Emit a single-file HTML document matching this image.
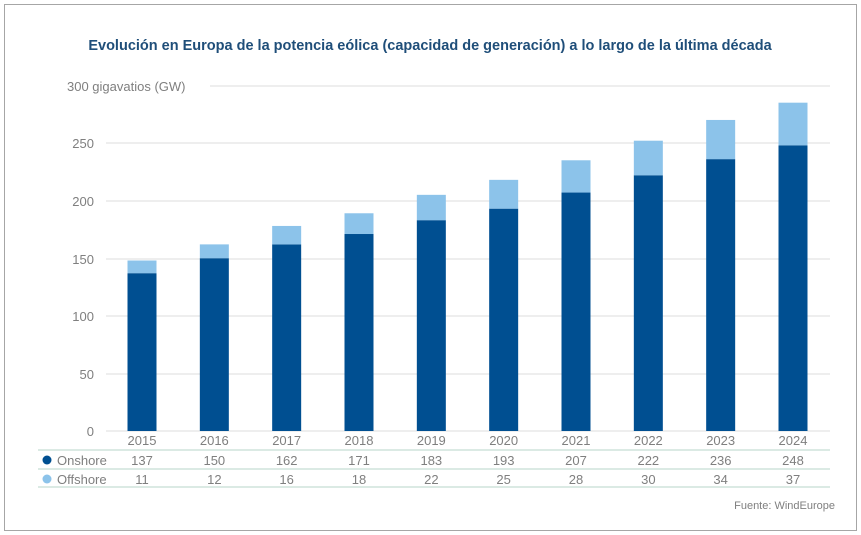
<!DOCTYPE html><html><head><meta charset="utf-8"><style>body{margin:0;background:#fff}svg{display:block}text{font-family:"Liberation Sans",sans-serif}</style></head><body>
<svg width="861" height="535" xmlns="http://www.w3.org/2000/svg">
<rect x="4.5" y="4.5" width="852" height="526" fill="#fff" stroke="#a6a6a6"/>
<text x="430" y="50" text-anchor="middle" font-size="14.5" font-weight="bold" fill="#1f4e79">Evolución en Europa de la potencia eólica (capacidad de generación) a lo largo de la última década</text>
<g stroke="#e3e3e3" stroke-width="1.3">
<line x1="210" x2="830" y1="86" y2="86"/><line x1="106" x2="830" y1="143" y2="143"/><line x1="106" x2="830" y1="201" y2="201"/><line x1="106" x2="830" y1="259" y2="259"/><line x1="106" x2="830" y1="316" y2="316"/><line x1="106" x2="830" y1="374" y2="374"/><line x1="106" x2="830" y1="431" y2="431"/>
</g>
<g font-size="13" fill="#7f7f7f" text-anchor="end">
<text x="67" y="91" text-anchor="start">300 gigavatios (GW)</text>
<text x="94" y="148">250</text><text x="94" y="206">200</text><text x="94" y="264">150</text><text x="94" y="321">100</text><text x="94" y="379">50</text><text x="94" y="436">0</text>
</g>
<g fill="#004f91">
<rect x="127.5" y="273.18" width="29" height="157.82"/>
<rect x="199.83" y="258.2" width="29" height="172.8"/>
<rect x="272.17" y="244.38" width="29" height="186.62"/>
<rect x="344.5" y="234.01" width="29" height="196.99"/>
<rect x="416.83" y="220.18" width="29" height="210.82"/>
<rect x="489.17" y="208.66" width="29" height="222.34"/>
<rect x="561.5" y="192.54" width="29" height="238.46"/>
<rect x="633.83" y="175.26" width="29" height="255.74"/>
<rect x="706.17" y="159.13" width="29" height="271.87"/>
<rect x="778.5" y="145.3" width="29" height="285.7"/>
</g>
<g fill="#8cc3ea">
<rect x="127.5" y="260.51" width="29" height="12.67"/>
<rect x="199.83" y="244.38" width="29" height="13.82"/>
<rect x="272.17" y="225.95" width="29" height="18.43"/>
<rect x="344.5" y="213.27" width="29" height="20.74"/>
<rect x="416.83" y="194.84" width="29" height="25.34"/>
<rect x="489.17" y="179.86" width="29" height="28.8"/>
<rect x="561.5" y="160.28" width="29" height="32.26"/>
<rect x="633.83" y="140.7" width="29" height="34.56"/>
<rect x="706.17" y="119.96" width="29" height="39.17"/>
<rect x="778.5" y="102.68" width="29" height="42.62"/>
</g>
<g font-size="13" fill="#7f7f7f" text-anchor="middle">
<text x="142" y="445">2015</text><text x="214.33" y="445">2016</text><text x="286.67" y="445">2017</text><text x="359" y="445">2018</text><text x="431.33" y="445">2019</text><text x="503.67" y="445">2020</text><text x="576" y="445">2021</text><text x="648.33" y="445">2022</text><text x="720.67" y="445">2023</text><text x="793" y="445">2024</text>
<text x="142" y="465">137</text><text x="214.33" y="465">150</text><text x="286.67" y="465">162</text><text x="359" y="465">171</text><text x="431.33" y="465">183</text><text x="503.67" y="465">193</text><text x="576" y="465">207</text><text x="648.33" y="465">222</text><text x="720.67" y="465">236</text><text x="793" y="465">248</text>
<text x="142" y="484">11</text><text x="214.33" y="484">12</text><text x="286.67" y="484">16</text><text x="359" y="484">18</text><text x="431.33" y="484">22</text><text x="503.67" y="484">25</text><text x="576" y="484">28</text><text x="648.33" y="484">30</text><text x="720.67" y="484">34</text><text x="793" y="484">37</text>
</g>
<g stroke="#c5ddd3" stroke-width="1.3"><line x1="38" x2="830" y1="450" y2="450"/><line x1="38" x2="830" y1="469" y2="469"/><line x1="38" x2="830" y1="487" y2="487"/></g>
<circle cx="47" cy="460" r="4.5" fill="#004f91"/><circle cx="47" cy="479" r="4.5" fill="#8cc3ea"/>
<g font-size="13" fill="#7f7f7f"><text x="57" y="465">Onshore</text><text x="57" y="484">Offshore</text></g>
<text x="835" y="509" text-anchor="end" font-size="11" fill="#7f7f7f">Fuente: WindEurope</text>
</svg></body></html>
